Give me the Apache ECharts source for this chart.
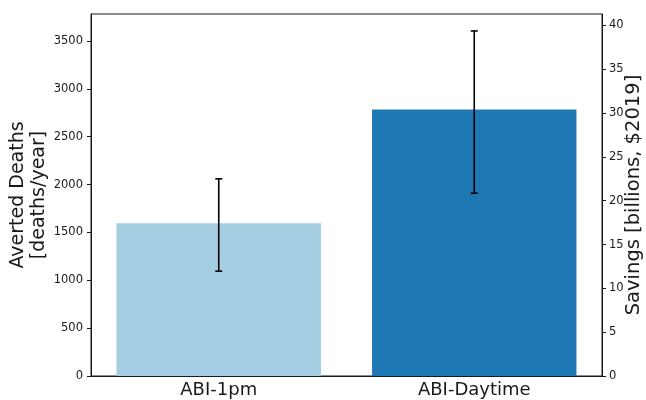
<!DOCTYPE html>
<html>
<head>
<meta charset="utf-8">
<script src="https://cdn.jsdelivr.net/npm/echarts@6/dist/echarts.min.js"></script>
<style>
  html, body { margin: 0; padding: 0; background: #fff; }
  #chart { width: 646px; height: 400px; }
</style>
</head>
<body>
<div id="chart"></div>
<script>
"use strict";

/*****Data start*****/
var categories = ['ABI-1pm', 'ABI-Daytime'];
var avertedDeaths = [1595, 2785];
var errLow = [1095, 1910];
var errHigh = [2060, 3605];
var barColors = ['#a6cee3', '#1f78b4'];
var deathTicks = [0, 500, 1000, 1500, 2000, 2500, 3000, 3500];
var savingsTicks = [0, 5, 10, 15, 20, 25, 30, 35, 40];
var deathMax = 3782;
var savingsMax = 41.3;
/*****Data end*****/

var font = "'DejaVu Sans', sans-serif";
var ink = '#1a1a1a';
var plain = function (v) { return String(v); };

var chart = echarts.init(document.getElementById('chart'));

var errData = categories.map(function (c, i) {
	return [i, errLow[i], errHigh[i]];
});

var option = {
	animation: false,
	grid: {
		left: 91,
		right: 44,
		top: 14,
		bottom: 24,
		containLabel: false,
		outerBoundsMode: 'none',
		show: true,
		borderColor: ink,
		borderWidth: 1,
		backgroundColor: 'transparent'
	},
	xAxis: {
		type: 'category',
		data: categories,
		axisLine: { lineStyle: { color: ink, width: 1 } },
		axisTick: { alignWithLabel: true, length: 4, lineStyle: { color: ink } },
		axisLabel: { color: ink, fontFamily: font, fontSize: 18, margin: 5 },
		splitLine: { show: false }
	},
	yAxis: [
		{
			type: 'value',
			min: 0,
			max: deathMax,
			name: 'Averted Deaths\n[deaths/year]',
			nameLocation: 'middle',
			nameRotate: 90,
			nameGap: 41,
			nameMoveOverlap: false,
			nameTextStyle: { color: ink, fontFamily: font, fontSize: 19, lineHeight: 21 },
			axisLine: { show: true, lineStyle: { color: ink } },
			axisTick: { show: true, length: 4, lineStyle: { color: ink }, customValues: deathTicks },
			axisLabel: { color: ink, fontFamily: font, fontSize: 11.5, margin: 8, customValues: deathTicks, formatter: plain },
			splitLine: { show: false }
		},
		{
			type: 'value',
			min: 0,
			max: savingsMax,
			position: 'right',
			name: 'Savings [billions, $2019]',
			nameLocation: 'middle',
			nameRotate: 90,
			nameGap: 22,
			nameMoveOverlap: false,
			nameTextStyle: { color: ink, fontFamily: font, fontSize: 19.5 },
			axisLine: { show: true, lineStyle: { color: ink } },
			axisTick: { show: true, length: 4, lineStyle: { color: ink }, customValues: savingsTicks },
			axisLabel: { color: ink, fontFamily: font, fontSize: 11.5, margin: 7, customValues: savingsTicks, formatter: plain },
			splitLine: { show: false }
		}
	],
	series: [
		{
			type: 'bar',
			yAxisIndex: 0,
			barWidth: '80%',
			data: avertedDeaths.map(function (v, i) {
				return { value: v, itemStyle: { color: barColors[i] } };
			})
		},
		{
			type: 'custom',
			yAxisIndex: 0,
			data: errData,
			encode: { x: 0, y: [1, 2] },
			z: 10,
			renderItem: function (params, api) {
				var lo = api.coord([api.value(0), api.value(1)]);
				var hi = api.coord([api.value(0), api.value(2)]);
				var cap = 3.5;
				var st = { stroke: '#000', lineWidth: 1.6 };
				return {
					type: 'group',
					children: [
						{ type: 'line', shape: { x1: lo[0], y1: lo[1], x2: hi[0], y2: hi[1] }, style: st },
						{ type: 'line', shape: { x1: lo[0] - cap, y1: lo[1], x2: lo[0] + cap, y2: lo[1] }, style: st },
						{ type: 'line', shape: { x1: hi[0] - cap, y1: hi[1], x2: hi[0] + cap, y2: hi[1] }, style: st }
					]
				};
			}
		}
	]
};

chart.setOption(option);
</script>
</body>
</html>
